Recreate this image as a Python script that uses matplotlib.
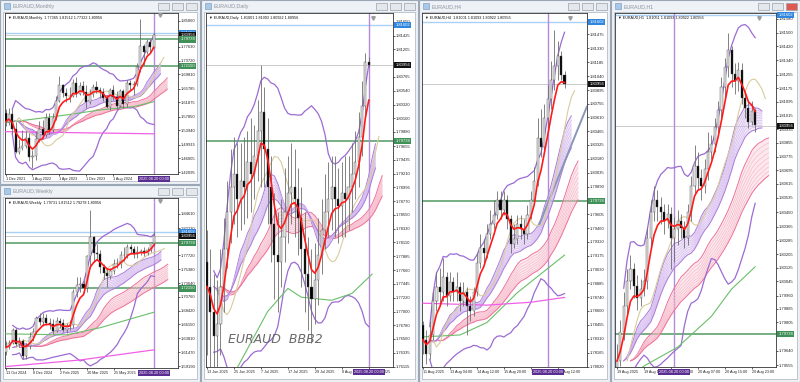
import numpy as np
import pandas as pd
import matplotlib
matplotlib.use("Agg")
import matplotlib.pyplot as plt
from matplotlib.patches import Rectangle
from matplotlib.transforms import blended_transform_factory as blend

plt.rcParams["font.family"] = ["Liberation Sans", "DejaVu Sans"]

# ---------------- data ----------------
# Monthly, Dec 2021 .. Aug 2025
m_open = [1.5880, 1.5640, 1.5870, 1.5450, 1.4790, 1.4900, 1.4950, 1.5190, 1.4630, 1.4660, 1.5140, 1.5440, 1.5260, 1.5740, 1.5400, 1.5740, 1.6240, 1.6690, 1.6460, 1.6380, 1.6370, 1.6740, 1.6420, 1.6660, 1.6490, 1.6190, 1.6430, 1.6630, 1.6550, 1.6490, 1.6310, 1.6070, 1.6550, 1.6340, 1.6090, 1.6520, 1.6140, 1.6730, 1.6670, 1.6720, 1.7200, 1.7780, 1.7630, 1.7900, 1.7737]
m_high = [1.6000, 1.6030, 1.6010, 1.5630, 1.5150, 1.5400, 1.5380, 1.5320, 1.4830, 1.5380, 1.5650, 1.5690, 1.5900, 1.5900, 1.5900, 1.6360, 1.6930, 1.6720, 1.6590, 1.6640, 1.6850, 1.6910, 1.6770, 1.6790, 1.6690, 1.6560, 1.6700, 1.6790, 1.6640, 1.6600, 1.6400, 1.6600, 1.6670, 1.6520, 1.6560, 1.6560, 1.6820, 1.6830, 1.6800, 1.7300, 1.8550, 1.7850, 1.7990, 1.7990, 1.8151]
m_low = [1.5520, 1.5540, 1.5300, 1.4760, 1.4740, 1.4840, 1.4900, 1.4540, 1.4330, 1.4560, 1.5080, 1.5180, 1.5220, 1.5300, 1.5350, 1.5700, 1.6200, 1.6330, 1.6210, 1.6190, 1.6330, 1.6330, 1.6400, 1.6400, 1.6040, 1.6150, 1.6350, 1.6460, 1.6320, 1.6220, 1.6020, 1.5970, 1.6250, 1.6010, 1.6050, 1.6030, 1.6060, 1.6520, 1.6400, 1.6650, 1.7050, 1.7250, 1.7570, 1.7630, 1.7732]
m_close = [1.5640, 1.5870, 1.5450, 1.4790, 1.4900, 1.4950, 1.5190, 1.4630, 1.4660, 1.5140, 1.5440, 1.5260, 1.5740, 1.5400, 1.5740, 1.6240, 1.6690, 1.6460, 1.6380, 1.6370, 1.6740, 1.6420, 1.6660, 1.6490, 1.6190, 1.6430, 1.6630, 1.6550, 1.6490, 1.6310, 1.6070, 1.6550, 1.6340, 1.6090, 1.6520, 1.6140, 1.6730, 1.6670, 1.6720, 1.7200, 1.7780, 1.7630, 1.7900, 1.7750, 1.8096]
m_green_idx = [0, 18, 28, 38, 44]
m_green = [1.5616, 1.5834, 1.5975, 1.6069, 1.6211]
m_magenta_idx = [0, 44]
m_magenta = [1.5360, 1.5300]

# Weekly, 13 Oct 2024 .. 17 Aug 2025
w_open = [1.6150, 1.6230, 1.6310, 1.6520, 1.6280, 1.6340, 1.6080, 1.6250, 1.6400, 1.6490, 1.6720, 1.6660, 1.6720, 1.6640, 1.6620, 1.6500, 1.6670, 1.6630, 1.6520, 1.6580, 1.6600, 1.7160, 1.7270, 1.7290, 1.7220, 1.7750, 1.8070, 1.7800, 1.7790, 1.7570, 1.7480, 1.7430, 1.7500, 1.7630, 1.7630, 1.7770, 1.7780, 1.7900, 1.7870, 1.7790, 1.7820, 1.7840, 1.7800, 1.7860, 1.7973]
w_high = [1.6330, 1.6360, 1.6560, 1.6560, 1.6400, 1.6370, 1.6300, 1.6480, 1.6560, 1.6760, 1.6800, 1.6800, 1.6790, 1.6720, 1.6700, 1.6730, 1.6720, 1.6700, 1.6640, 1.6680, 1.7200, 1.7400, 1.7400, 1.7350, 1.7780, 1.8530, 1.8100, 1.7950, 1.7850, 1.7620, 1.7550, 1.7560, 1.7700, 1.7720, 1.7840, 1.7900, 1.7960, 1.7960, 1.7920, 1.7930, 1.7880, 1.7900, 1.7910, 1.7990, 1.8151]
w_low = [1.6100, 1.6200, 1.6280, 1.6250, 1.6230, 1.6030, 1.6040, 1.6200, 1.6330, 1.6450, 1.6600, 1.6580, 1.6600, 1.6540, 1.6460, 1.6480, 1.6560, 1.6480, 1.6470, 1.6520, 1.6560, 1.7070, 1.7150, 1.7140, 1.7160, 1.7550, 1.7650, 1.7690, 1.7480, 1.7380, 1.7240, 1.7380, 1.7460, 1.7550, 1.7560, 1.7680, 1.7730, 1.7790, 1.7730, 1.7720, 1.7770, 1.7750, 1.7770, 1.7830, 1.7928]
w_close = [1.6230, 1.6310, 1.6520, 1.6280, 1.6340, 1.6080, 1.6250, 1.6400, 1.6490, 1.6720, 1.6660, 1.6720, 1.6640, 1.6620, 1.6500, 1.6670, 1.6630, 1.6520, 1.6580, 1.6600, 1.7160, 1.7270, 1.7290, 1.7220, 1.7750, 1.8070, 1.7800, 1.7790, 1.7570, 1.7480, 1.7430, 1.7500, 1.7630, 1.7630, 1.7770, 1.7780, 1.7900, 1.7870, 1.7790, 1.7820, 1.7840, 1.7800, 1.7860, 1.7970, 1.8096]
w_green_idx = [0, 18, 28, 44]
w_green = [1.6457, 1.6440, 1.6560, 1.6820]
w_magenta_idx = [0, 22, 44]
w_magenta = [1.5910, 1.6020, 1.6190]

# Daily, 13 Jun 2025 .. 20 Aug 2025
d_open = [1.7780, 1.7740, 1.7700, 1.7660, 1.7680, 1.7740, 1.7800, 1.7860, 1.7900, 1.7920, 1.7880, 1.7910, 1.7900, 1.7940, 1.7920, 1.7950, 1.7990, 1.8020, 1.7960, 1.7900, 1.7840, 1.7790, 1.7780, 1.7820, 1.7860, 1.7890, 1.7900, 1.7880, 1.7850, 1.7800, 1.7760, 1.7740, 1.7720, 1.7750, 1.7790, 1.7830, 1.7860, 1.7880, 1.7900, 1.7880, 1.7870, 1.7890, 1.7880, 1.7900, 1.7920, 1.7940, 1.7980, 1.8030, 1.8100]
d_high = [1.7830, 1.7800, 1.7760, 1.7750, 1.7800, 1.7850, 1.7910, 1.7960, 1.7980, 1.7970, 1.7970, 1.7980, 1.7990, 1.8010, 1.8000, 1.8040, 1.8095, 1.8060, 1.8010, 1.7950, 1.7890, 1.7860, 1.7880, 1.7930, 1.7950, 1.7970, 1.7960, 1.7930, 1.7900, 1.7860, 1.7820, 1.7800, 1.7810, 1.7850, 1.7880, 1.7920, 1.7940, 1.7950, 1.7950, 1.7930, 1.7940, 1.7950, 1.7950, 1.7970, 1.7990, 1.8020, 1.8070, 1.8115, 1.8109]
d_low = [1.7630, 1.7610, 1.7590, 1.7600, 1.7630, 1.7700, 1.7770, 1.7810, 1.7840, 1.7820, 1.7830, 1.7840, 1.7850, 1.7860, 1.7880, 1.7910, 1.7900, 1.7900, 1.7840, 1.7780, 1.7720, 1.7700, 1.7740, 1.7780, 1.7810, 1.7840, 1.7820, 1.7790, 1.7740, 1.7700, 1.7670, 1.7650, 1.7680, 1.7710, 1.7760, 1.7800, 1.7820, 1.7830, 1.7820, 1.7810, 1.7820, 1.7820, 1.7830, 1.7860, 1.7880, 1.7900, 1.7950, 1.8010, 1.8092]
d_close = [1.7740, 1.7700, 1.7660, 1.7680, 1.7740, 1.7800, 1.7860, 1.7900, 1.7920, 1.7880, 1.7910, 1.7900, 1.7940, 1.7920, 1.7950, 1.7990, 1.8020, 1.7960, 1.7900, 1.7840, 1.7790, 1.7780, 1.7820, 1.7860, 1.7890, 1.7900, 1.7880, 1.7850, 1.7800, 1.7760, 1.7740, 1.7720, 1.7750, 1.7790, 1.7830, 1.7860, 1.7880, 1.7900, 1.7880, 1.7870, 1.7890, 1.7880, 1.7900, 1.7920, 1.7940, 1.7980, 1.8030, 1.8100, 1.8096]
d_green_idx = [6, 9, 18, 24, 28, 37, 43, 49]
d_green = [1.7570, 1.7610, 1.7700, 1.7737, 1.7723, 1.7718, 1.7729, 1.7760]

# H4, 11 Aug 20:00 .. 20 Aug 20:00
h4_open = [1.7845, 1.7830, 1.7815, 1.7835, 1.7870, 1.7885, 1.7880, 1.7895, 1.7875, 1.7890, 1.7880, 1.7885, 1.7870, 1.7880, 1.7865, 1.7860, 1.7880, 1.7910, 1.7925, 1.7920, 1.7940, 1.7950, 1.7960, 1.7975, 1.7965, 1.7975, 1.7955, 1.7930, 1.7935, 1.7950, 1.7945, 1.7940, 1.7960, 1.7975, 1.7995, 1.8040, 1.8030, 1.8060, 1.8080, 1.8100, 1.8115, 1.8125, 1.8105]
h4_high = [1.7850, 1.7840, 1.7850, 1.7880, 1.7900, 1.7905, 1.7915, 1.7900, 1.7900, 1.7895, 1.7900, 1.7890, 1.7890, 1.7885, 1.7875, 1.7885, 1.7920, 1.7940, 1.7935, 1.7950, 1.7965, 1.7975, 1.7985, 1.7985, 1.7985, 1.7980, 1.7960, 1.7950, 1.7960, 1.7960, 1.7955, 1.7970, 1.7985, 1.8010, 1.8060, 1.8070, 1.8075, 1.8095, 1.8120, 1.8152, 1.8140, 1.8130, 1.8109]
h4_low = [1.7815, 1.7805, 1.7810, 1.7830, 1.7860, 1.7865, 1.7870, 1.7865, 1.7870, 1.7870, 1.7870, 1.7860, 1.7865, 1.7835, 1.7850, 1.7855, 1.7875, 1.7905, 1.7910, 1.7915, 1.7935, 1.7945, 1.7955, 1.7955, 1.7960, 1.7945, 1.7920, 1.7925, 1.7930, 1.7935, 1.7930, 1.7935, 1.7955, 1.7970, 1.7990, 1.8020, 1.8025, 1.8050, 1.8070, 1.8090, 1.8100, 1.8100, 1.8092]
h4_close = [1.7830, 1.7815, 1.7835, 1.7870, 1.7885, 1.7880, 1.7895, 1.7875, 1.7890, 1.7880, 1.7885, 1.7870, 1.7880, 1.7865, 1.7860, 1.7880, 1.7910, 1.7925, 1.7920, 1.7940, 1.7950, 1.7960, 1.7975, 1.7965, 1.7975, 1.7955, 1.7930, 1.7935, 1.7950, 1.7945, 1.7940, 1.7960, 1.7975, 1.7995, 1.8040, 1.8030, 1.8060, 1.8080, 1.8100, 1.8115, 1.8125, 1.8105, 1.8096]
h4_green_idx = [0, 11, 19, 28, 42]
h4_green = [1.7833, 1.7835, 1.7848, 1.7879, 1.7918]
h4_magenta_idx = [0, 19, 32, 42]
h4_magenta = [1.7868, 1.7866, 1.7869, 1.7874]
h4_trend_idx = [34.4, 48.6]
h4_trend = [1.7949, 1.8072]

# H1, 19 Aug 07:00 .. 21 Aug 00:00
h1_open = [1.7945, 1.7958, 1.7975, 1.7990, 1.8005, 1.8012, 1.8002, 1.7995, 1.8000, 1.8005, 1.8030, 1.8045, 1.8052, 1.8048, 1.8045, 1.8040, 1.8044, 1.8030, 1.8035, 1.8040, 1.8036, 1.8030, 1.8045, 1.8060, 1.8072, 1.8065, 1.8060, 1.8070, 1.8080, 1.8085, 1.8095, 1.8105, 1.8118, 1.8130, 1.8140, 1.8126, 1.8122, 1.8128, 1.8112, 1.8106, 1.8098, 1.8104]
h1_high = [1.7968, 1.7982, 1.7998, 1.8012, 1.8020, 1.8015, 1.8008, 1.8006, 1.8012, 1.8036, 1.8052, 1.8060, 1.8058, 1.8054, 1.8050, 1.8050, 1.8048, 1.8042, 1.8046, 1.8044, 1.8040, 1.8050, 1.8066, 1.8084, 1.8080, 1.8070, 1.8076, 1.8092, 1.8090, 1.8100, 1.8110, 1.8124, 1.8135, 1.8150, 1.8142, 1.8132, 1.8133, 1.8132, 1.8116, 1.8110, 1.8110, 1.8106]
h1_low = [1.7940, 1.7955, 1.7970, 1.7985, 1.8000, 1.7995, 1.7988, 1.7990, 1.7996, 1.8000, 1.8025, 1.8040, 1.8040, 1.8038, 1.8032, 1.8036, 1.8012, 1.8016, 1.8026, 1.8030, 1.8024, 1.8026, 1.8040, 1.8056, 1.8058, 1.8052, 1.8056, 1.8064, 1.8076, 1.8080, 1.8090, 1.8100, 1.8112, 1.8124, 1.8118, 1.8114, 1.8116, 1.8108, 1.8100, 1.8094, 1.8096, 1.8092]
h1_close = [1.7958, 1.7975, 1.7990, 1.8005, 1.8012, 1.8002, 1.7995, 1.8000, 1.8005, 1.8030, 1.8045, 1.8052, 1.8048, 1.8045, 1.8040, 1.8044, 1.8030, 1.8035, 1.8040, 1.8036, 1.8030, 1.8045, 1.8060, 1.8072, 1.8065, 1.8060, 1.8070, 1.8080, 1.8085, 1.8095, 1.8105, 1.8118, 1.8130, 1.8140, 1.8126, 1.8122, 1.8128, 1.8112, 1.8106, 1.8098, 1.8104, 1.8096]
h1_green_idx = [5, 8, 18, 28, 34, 41]
h1_green = [1.7950, 1.7955, 1.7966, 1.7984, 1.8000, 1.8013]

# horizontal levels drawn on every chart
level_blue = 1.81602
level_bid = 1.80956
level_green = [1.79738, 1.72150]

m_ticks = [1.85060, 1.77630, 1.73720, 1.69810, 1.65785, 1.61875, 1.57850, 1.53940, 1.49915, 1.46005, 1.42095]
w_ticks = [1.84610, 1.82230, 1.77720, 1.75380, 1.73040, 1.70760, 1.68420, 1.66150, 1.63810, 1.61470, 1.59190]
d_ticks = [1.81650, 1.81425, 1.81205, 1.80765, 1.80540, 1.80320, 1.80100, 1.79880, 1.79655, 1.79435, 1.79210,
           1.78995, 1.78770, 1.78550, 1.78330, 1.78110, 1.77885, 1.77660, 1.77445, 1.77220, 1.77000, 1.76780,
           1.76560, 1.76335, 1.76115]
h4_ticks = [1.81475, 1.81330, 1.81185, 1.81040, 1.80895, 1.80755, 1.80610, 1.80465, 1.80325, 1.80180, 1.80035,
            1.79890, 1.79605, 1.79460, 1.79320, 1.79175, 1.79030, 1.78885, 1.78740, 1.78600, 1.78455, 1.78310,
            1.78165, 1.78020]
h1_ticks = [1.81580, 1.81500, 1.81420, 1.81340, 1.81255, 1.81175, 1.81095, 1.81015, 1.80935, 1.80855, 1.80775,
            1.80695, 1.80615, 1.80535, 1.80450, 1.80365, 1.80285, 1.80205, 1.80125, 1.80045, 1.79960, 1.79885,
            1.79805, 1.79640, 1.79555]

m_xt, m_xl = [0, 8, 16, 24, 32], ["1 Dec 2021", "1 Aug 2022", "1 Apr 2023", "1 Dec 2023", "1 Aug 2024"]
w_xt, w_xl = [0, 8, 16, 24, 32], ["13 Oct 2024", "8 Dec 2024", "2 Feb 2025", "30 Mar 2025", "25 May 2025"]
d_xt = [0, 8, 16, 24, 32, 40, 48]
d_xl = ["13 Jun 2025", "25 Jun 2025", "7 Jul 2025", "17 Jul 2025", "29 Jul 2025", "8 Aug 2025", "20 Aug 2025"]
h4_xt = [0, 8, 16, 24, 32, 40]
h4_xl = ["11 Aug 2025", "13 Aug 04:00", "14 Aug 12:00", "15 Aug 20:00", "19 Aug 04:00", "20 Aug 12:00"]
h1_xt = [0, 8, 16, 24, 32, 40]
h1_xl = ["19 Aug 2025", "19 Aug 15:00", "19 Aug 23:00", "20 Aug 07:00", "20 Aug 15:00", "20 Aug 23:00"]

purple_spans = [12, 13, 14, 15, 16, 17, 18, 19, 20]
pink_spans = [24, 26, 28, 30, 32, 34, 36, 38, 40]

# ---------------- drawing ----------------
W, H = 800, 382
STEP = 3.37  # pixels per bar
fig = plt.figure(figsize=(W / 100, H / 100), dpi=100)
fig.patch.set_facecolor("#d5dbe3")


def frect(x0, y0, x1, y1, z=-10, **kw):
    fig.add_artist(Rectangle((x0 / W, 1 - y1 / H), (x1 - x0) / W, (y1 - y0) / H,
                             transform=fig.transFigure, zorder=z, **kw))


def ema(v, span):
    return pd.Series(v).ewm(span=span, adjust=False).mean().values


def window(x0, y0, x1, y1, title, active=False):
    frect(x0, y0, x1, y1, facecolor="#eef1f5", edgecolor="#9aa7b6", lw=0.8)
    frect(x0 + 3, y0 + 12, x1 - 3, y1 - 3, z=-9, facecolor="white", edgecolor="#a8b0ba", lw=0.5)
    frect(x0 + 4, y0 + 3, x0 + 10, y0 + 9, z=-9, facecolor="#a9c8e8", edgecolor="#6d94c0", lw=0.4)
    fig.text((x0 + 13) / W, 1 - (y0 + 6.5) / H, title, fontsize=3.8, color="#8c959f", va="center")
    for k, bx in enumerate([x1 - 42, x1 - 28, x1 - 14]):
        fc = "#de5a4e" if (active and k == 2) else "#e4e8ed"
        frect(bx, y0 + 3, bx + 11, y0 + 10, z=-9, facecolor=fc, edgecolor="#98a2ad", lw=0.5)


def chart(p):
    L, T, R, B = p["rect"]
    ax = fig.add_axes([L / W, 1 - B / H, (R - L) / W, (B - T) / H])
    o, hi, lo, c = (np.array(p[k], dtype=float) for k in ("o", "h", "l", "c"))
    n = len(c)
    x = np.arange(n)
    ax.set_xlim((L - p["x0"]) / STEP, (R - p["x0"]) / STEP)
    ax.set_ylim(*p["ylim"])

    ax.axhline(level_blue, color="#a9d0f5", lw=1.0, zorder=1)
    ax.axhline(level_bid, color="#c4c4c4", lw=0.6, zorder=1)
    for lv in level_green:
        ax.axhline(lv, color="#4f9a62", lw=1.1, zorder=1)
    ax.axvline(p["vline"], color="#b58ad8", lw=1.0, zorder=1)

    # EMA ribbons
    for spans, shift, col, edge in ((pink_spans, 4, "#f6b3c6", "#ee6f98"),
                                    (purple_spans, 2, "#d2b4ee", "#a97ad8")):
        lines = np.array([ema(c, s) for s in spans])
        ax.fill_between(x + shift, lines.min(0), lines.max(0), color=col, alpha=0.3, lw=0, zorder=2)
        for k, ln in enumerate(lines):
            edge_line = k in (0, len(spans) - 1)
            ax.plot(x + shift, ln, color=edge if edge_line else col, lw=0.7 if edge_line else 0.4, zorder=2)

    # Bollinger bands
    s = pd.Series(c)
    mid = s.rolling(20, min_periods=3).mean()
    sd = s.rolling(20, min_periods=3).std(ddof=0)
    ax.plot(x, mid + 2 * sd, color="#9b6bd3", lw=0.9, zorder=3)
    ax.plot(x, mid - 2 * sd, color="#9b6bd3", lw=0.9, zorder=3)

    if "green" in p:
        ax.plot(p["green"][0], p["green"][1], color="#6abf69", lw=0.8, zorder=3)
    if "magenta" in p:
        ax.plot(p["magenta"][0], p["magenta"][1], color="#f060e6", lw=0.9, zorder=3)
    if "trend" in p:
        ax.plot(p["trend"][0], p["trend"][1], color="#8a96b8", lw=1.4, zorder=3)

    # beige displaced MA
    ax.plot(x + 3, s.rolling(8, min_periods=1).mean(), color="#d9cc9e", lw=0.8, zorder=3)

    # candles
    up = c >= o
    ax.vlines(x, lo, hi, color="#6e6e6e", lw=0.6, zorder=4)
    ax.bar(x, np.maximum(np.abs(c - o), 1e-5), bottom=np.minimum(o, c), width=0.62,
           color=np.where(up, "#e2e2e2", "black"), edgecolor="#505050", linewidth=0.3, zorder=5)

    ax.plot(x, ema(c, 5), color="#ff1a1a", lw=1.2, zorder=6)

    # axes styling
    for sp in ax.spines.values():
        sp.set_linewidth(0.6)
        sp.set_color("#333333")
    ax.yaxis.tick_right()
    ax.set_yticks(p["yt"])
    ax.set_yticklabels([f"{t:.5f}" for t in p["yt"]])
    ax.tick_params(axis="y", labelsize=3.0, length=1.5, width=0.5, pad=0.8, colors="#222222")
    ax.set_xticks(p["xt"])
    ax.set_xticklabels(p["xl"], ha="left")
    ax.tick_params(axis="x", labelsize=2.7, length=1.5, width=0.5, pad=1.0, colors="#222222")

    tr = blend(ax.transAxes, ax.transData)
    xf = 1 + 2.5 / (R - L)
    tags = [(level_blue, "#2f86e0"), (level_bid, "#111111")] + [(g, "#3f9157") for g in level_green]
    for y, fc in tags:
        if p["ylim"][0] < y < p["ylim"][1]:
            ax.text(xf, y, f"{y:.5f}", transform=tr, fontsize=3.0, color="white", ha="left", va="center",
                    bbox=dict(boxstyle="square,pad=0.25", fc=fc, ec="none"), zorder=10, clip_on=False)

    ax.text(p["vline"], -3.0 / (B - T), "2025.08.20 00:00", transform=blend(ax.transData, ax.transAxes),
            fontsize=2.8, color="white", ha="center", va="top",
            bbox=dict(boxstyle="square,pad=0.25", fc="#5b2c91", ec="none"), zorder=10, clip_on=False)

    ax.text(3 / (R - L), 1 - 5 / (B - T), "\u25bc " + p["header"], transform=ax.transAxes,
            fontsize=2.7, va="center", color="#111111", zorder=10)
    ax.plot([0.895], [0.985], marker="v", ms=2.5, color="#9a9a9a", transform=ax.transAxes,
            clip_on=False, zorder=10)
    return ax


window(0, 0, 200, 184, "EURAUD,Monthly")
window(0, 185, 200, 382, "EURAUD,Weekly")
window(201, 0, 418, 382, "EURAUD,Daily")
window(419, 0, 610, 382, "EURAUD,H4")
window(611, 0, 800, 382, "EURAUD,H1", active=True)

chart(dict(rect=(5, 13, 178, 174), x0=5.5, ylim=(1.4161, 1.8724), o=m_open, h=m_high, l=m_low, c=m_close,
           yt=m_ticks, xt=m_xt, xl=m_xl, vline=44, green=(m_green_idx, m_green),
           magenta=(m_magenta_idx, m_magenta),
           header="EURAUD,Monthly  1.77365 1.81512 1.77322 1.80956"))
chart(dict(rect=(5, 198, 178, 368), x0=6, ylim=(1.5886, 1.8727), o=w_open, h=w_high, l=w_low, c=w_close,
           yt=w_ticks, xt=w_xt, xl=w_xl, vline=44, green=(w_green_idx, w_green),
           magenta=(w_magenta_idx, w_magenta),
           header="EURAUD,Weekly  1.79731 1.81512 1.79278 1.80956"))
ax_d = chart(dict(rect=(206, 13, 393, 367), x0=207, ylim=(1.7611, 1.81789), o=d_open, h=d_high, l=d_low,
                  c=d_close, yt=d_ticks, xt=d_xt, xl=d_xl, vline=48, green=(d_green_idx, d_green),
                  header="EURAUD,Daily  1.81001 1.81093 1.80922 1.80956"))
chart(dict(rect=(422, 13, 587, 367), x0=423, ylim=(1.78017, 1.81696), o=h4_open, h=h4_high, l=h4_low,
           c=h4_close, yt=h4_ticks, xt=h4_xt, xl=h4_xl, vline=37, green=(h4_green_idx, h4_green),
           magenta=(h4_magenta_idx, h4_magenta), trend=(h4_trend_idx, h4_trend),
           header="EURAUD,H4  1.81001 1.81093 1.80922 1.80956"))
chart(dict(rect=(615, 13, 776, 367), x0=617, ylim=(1.79544, 1.81615), o=h1_open, h=h1_high, l=h1_low,
           c=h1_close, yt=h1_ticks, xt=h1_xt, xl=h1_xl, vline=17, green=(h1_green_idx, h1_green),
           header="EURAUD,H1  1.81051 1.81093 1.80922 1.80956"))

ax_d.text(0.118, 0.068, "EURAUD  BBB2", transform=ax_d.transAxes, fontsize=9, fontstyle="italic",
          color="#6a6a6a", zorder=10, family="DejaVu Sans")

fig.savefig("out.png", dpi=100)
